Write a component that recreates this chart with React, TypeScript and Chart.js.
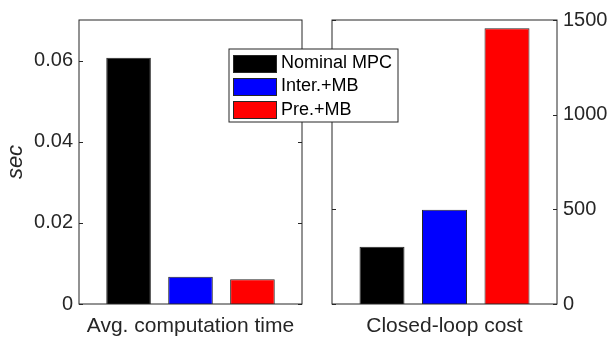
import React, { useEffect, useRef } from "react";
import { Chart, registerables } from "chart.js";
Chart.register(...registerables);

// ---- data ----
const methods = ["Nominal MPC", "Inter.+MB", "Pre.+MB"];
const methodColors = ["#000000", "#0000ff", "#ff0000"];
const positions = [1, 2, 3];
const timeValues = [0.0607, 0.0067, 0.0061];
const costValues = [302, 498, 1456];
const timeTicks = [0, 0.02, 0.04, 0.06];
const costTicks = [0, 500, 1000, 1500];
const timeLabel = "Avg. computation time";
const costLabel = "Closed-loop cost";
const timeAxisTitle = "sec";

const W = 613;
const H = 342;
const INK = "#262626";
const FONT = "'Liberation Sans', Arial, Helvetica, sans-serif";

Chart.defaults.font.family = FONT;
Chart.defaults.color = INK;

const framePlugin = {
  id: "mframe",
  afterDraw(chart: any) {
    const { ctx, chartArea: a } = chart;
    const ys = chart.scales.y;
    ctx.save();
    ctx.strokeStyle = INK;
    ctx.lineWidth = 1;
    ctx.strokeRect(a.left, a.top, a.right - a.left, a.bottom - a.top);
    ys.ticks.forEach((t: any) => {
      const y = Math.round(ys.getPixelForValue(t.value)) + 0.5;
      ctx.beginPath();
      ctx.moveTo(a.left, y);
      ctx.lineTo(a.left + 4, y);
      ctx.moveTo(a.right, y);
      ctx.lineTo(a.right - 4, y);
      ctx.stroke();
    });
    ctx.restore();
  },
};

const legendPlugin = {
  id: "mlegend",
  afterDraw(chart: any) {
    const ctx = chart.ctx;
    const x0 = 229, y0 = 49, w = 169, h = 73;
    ctx.save();
    ctx.fillStyle = "#ffffff";
    ctx.fillRect(x0, y0, w, h);
    ctx.strokeStyle = INK;
    ctx.lineWidth = 1;
    ctx.strokeRect(x0, y0, w, h);
    ctx.font = `18px ${FONT}`;
    ctx.textBaseline = "middle";
    ctx.textAlign = "left";
    methods.forEach((m, i) => {
      const cy = 63 + i * 23.3;
      ctx.fillStyle = methodColors[i];
      ctx.fillRect(233.5, Math.round(cy - 8.5) + 0.5, 43, 17);
      ctx.strokeStyle = INK;
      ctx.strokeRect(233.5, Math.round(cy - 8.5) + 0.5, 43, 17);
      ctx.fillStyle = "#000000";
      ctx.fillText(m, 281, cy);
    });
    ctx.restore();
  },
};

function makeConfig(
  values: number[],
  ticks: number[],
  yMax: number,
  label: string,
  side: "left" | "right",
  yTitle: string | null,
  withLegend: boolean
): any {
  const isLeft = side === "left";
  return {
    type: "bar",
    data: {
      datasets: [
        {
          data: positions.map((x, i) => ({ x, y: values[i] })),
          backgroundColor: methodColors,
          borderColor: INK,
          borderWidth: 1,
          barPercentage: 0.72,
          categoryPercentage: 1,
        },
      ],
    },
    options: {
      responsive: false,
      animation: false,
      devicePixelRatio: 1,
      layout: {
        padding: isLeft
          ? { left: 0, right: W - 302, top: 20, bottom: 0 }
          : { left: 332, right: 0, top: 20, bottom: 0 },
      },
      plugins: {
        legend: { display: false },
        tooltip: { enabled: false },
      },
      scales: {
        x: {
          type: "linear",
          min: 0.2,
          max: 3.8,
          offset: false,
          afterBuildTicks(s: any) {
            s.ticks = positions.map((v) => ({ value: v }));
          },
          ticks: { display: false },
          grid: { display: false, drawTicks: false, offset: false },
          border: { display: false },
          title: {
            display: true,
            text: label,
            color: INK,
            font: { size: 21 },
            padding: { top: 0, bottom: 3 },
          },
          afterFit(s: any) {
            s.height = 38;
          },
        },
        y: {
          position: side,
          min: 0,
          max: yMax,
          afterBuildTicks(s: any) {
            s.ticks = ticks.map((v) => ({ value: v }));
          },
          ticks: {
            padding: 6,
            color: INK,
            font: { size: 20 },
            callback: (v: any) => String(+Number(v).toFixed(6)),
          },
          grid: { display: false, drawTicks: false },
          border: { display: false },
          title: yTitle
            ? {
                display: true,
                text: yTitle,
                color: INK,
                font: { size: 22, style: "italic", family: "'Liberation Sans', 'DejaVu Sans', sans-serif" },
                padding: { top: 3, bottom: 0 },
              }
            : { display: false },
          afterFit(s: any) {
            s.width = isLeft ? 79 : W - 557;
            s.paddingTop = 0;
            s.paddingBottom = 0;
          },
        },
      },
    },
    plugins: withLegend ? [framePlugin, legendPlugin] : [framePlugin],
  };
}

function ChartCanvas({ config, z }: { config: any; z: number }) {
  const ref = useRef<HTMLCanvasElement | null>(null);
  useEffect(() => {
    const c = new Chart(ref.current as HTMLCanvasElement, config);
    return () => c.destroy();
  }, []);
  return (
    <canvas
      ref={ref}
      width={W}
      height={H}
      style={{ position: "absolute", left: 0, top: 0, width: W, height: H, zIndex: z }}
    />
  );
}

export default function App() {
  const right = makeConfig(costValues, costTicks, 1500, costLabel, "right", null, false);
  const left = makeConfig(timeValues, timeTicks, 0.07, timeLabel, "left", timeAxisTitle, true);
  return (
    <div
      style={{
        position: "fixed",
        left: 0,
        top: 0,
        width: W,
        height: H,
        background: "#ffffff",
        overflow: "hidden",
      }}
    >
      <ChartCanvas config={right} z={1} />
      <ChartCanvas config={left} z={2} />
    </div>
  );
}
